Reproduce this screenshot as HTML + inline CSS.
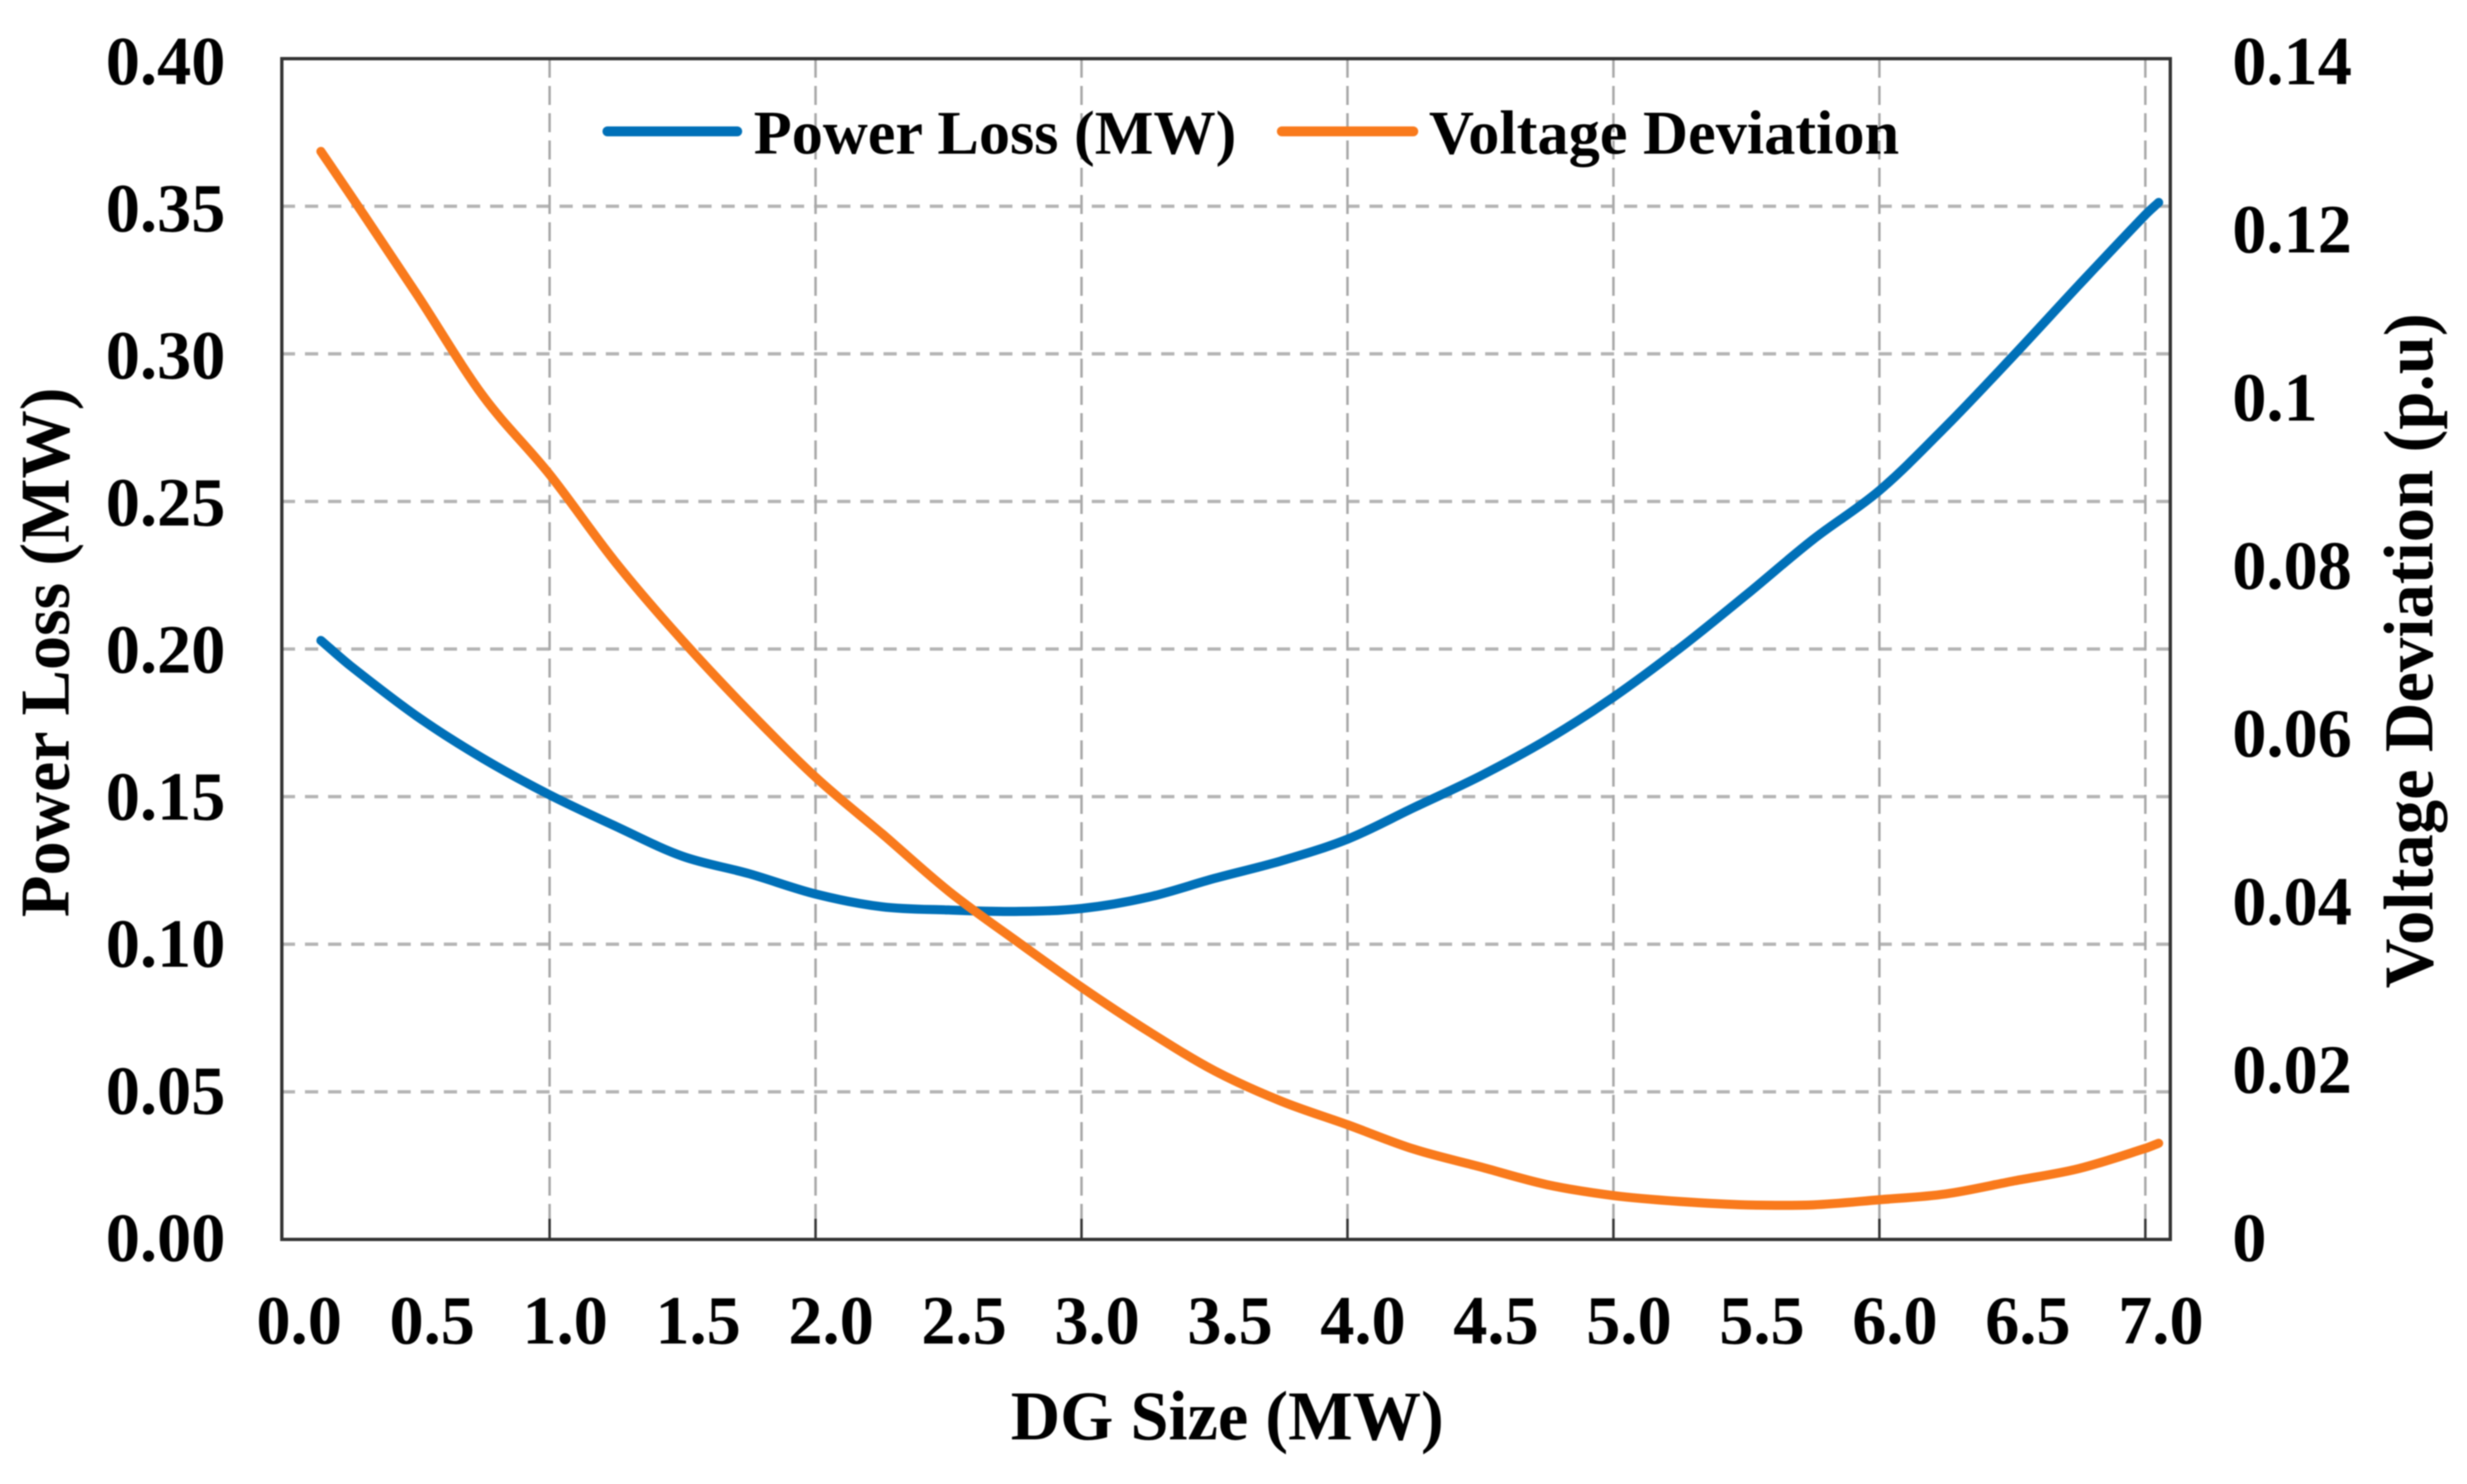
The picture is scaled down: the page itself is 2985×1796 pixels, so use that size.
<!DOCTYPE html>
<html lang="en">
<head>
<meta charset="utf-8">
<title>Power Loss and Voltage Deviation vs DG Size</title>
<style>
html,body{margin:0;padding:0;background:#fff;width:2985px;height:1796px;overflow:hidden}
svg{display:block;filter:blur(0.8px)}
text{font-family:"Liberation Serif",serif;font-weight:bold;fill:#000}
</style>
</head>
<body>
<svg id="chart" xmlns="http://www.w3.org/2000/svg" width="2985" height="1796" viewBox="0 0 2985 1796">
  <rect x="0" y="0" width="2985" height="1796" fill="#fff"/>
  <g id="grid"></g>
  <g id="ticks"></g>
  <rect x="341" y="71" width="2285" height="1429" fill="none" stroke="#333" stroke-width="4"/>
  <g id="series"></g>
  <g id="labels"></g>

  <g>
    <line x1="735" y1="159" x2="892" y2="159" stroke="#0070b8" stroke-width="12" stroke-linecap="round"/>
    <text x="912" y="186" font-size="75" textLength="584" lengthAdjust="spacingAndGlyphs">Power Loss (MW)</text>
    <line x1="1551" y1="159" x2="1710" y2="159" stroke="#f97a1c" stroke-width="12" stroke-linecap="round"/>
    <text x="1729" y="186" font-size="75" textLength="569" lengthAdjust="spacingAndGlyphs">Voltage Deviation</text>
  </g>

  <text x="1223" y="1742" font-size="85" textLength="524" lengthAdjust="spacingAndGlyphs">DG Size (MW)</text>
  <text transform="translate(83,1110) rotate(-90)" font-size="85" textLength="641" lengthAdjust="spacingAndGlyphs">Power Loss (MW)</text>
  <text transform="translate(2943,1196) rotate(-90)" font-size="85" textLength="817" lengthAdjust="spacingAndGlyphs">Voltage Deviation (p.u)</text>
</svg>

<script>
const dgSize = [0.14,0.25,0.5,0.75,1.0,1.25,1.5,1.75,2.0,2.25,2.5,2.75,3.0,3.25,3.5,3.75,4.0,4.25,4.5,4.75,5.0,5.25,5.5,5.75,6.0,6.25,6.5,6.75,7.0,7.05];
const powerLoss = [0.2029,0.1944,0.1773,0.1629,0.1506,0.1399,0.1298,0.1239,0.1170,0.1127,0.1116,0.1111,0.1121,0.1159,0.1223,0.1282,0.1356,0.1463,0.1570,0.1693,0.1837,0.2003,0.2184,0.2371,0.2537,0.2754,0.2990,0.3233,0.3471,0.3513];
const voltageDeviation = [0.1290,0.1239,0.1121,0.1000,0.0907,0.0802,0.0710,0.0626,0.0548,0.0481,0.0413,0.0355,0.0299,0.0247,0.0200,0.0164,0.0136,0.0107,0.0086,0.0065,0.0052,0.0045,0.0041,0.0041,0.0047,0.0054,0.0069,0.0084,0.0108,0.0114];
const xTickLabels = ["0.0","0.5","1.0","1.5","2.0","2.5","3.0","3.5","4.0","4.5","5.0","5.5","6.0","6.5","7.0"];
const leftTickLabels = ["0.00","0.05","0.10","0.15","0.20","0.25","0.30","0.35","0.40"];
const rightTickLabels = ["0","0.02","0.04","0.06","0.08","0.1","0.12","0.14"];
const xGridValues = [1,2,3,4,5,6,7];

const NS = "http://www.w3.org/2000/svg";
const PLOT_TOP = 71, PLOT_BOTTOM = 1500, PLOT_LEFT = 341, PLOT_RIGHT = 2626;
const LEFT_MAX = 0.4, RIGHT_MAX = 0.14;

function xScale(v){ return 343.2 + 321.8 * v; }
function xLabelScale(v){ return 362 + 321.8 * v; }
function yLeft(v){ return PLOT_BOTTOM - (v / LEFT_MAX) * (PLOT_BOTTOM - PLOT_TOP); }
function yRight(v){ return PLOT_BOTTOM - (v / RIGHT_MAX) * (PLOT_BOTTOM - PLOT_TOP); }
function labelBaseline(frac){ return 1526 - frac * 1424; }

function make(tag, attrs, parent){
  const el = document.createElementNS(NS, tag);
  for (const k in attrs) el.setAttribute(k, attrs[k]);
  parent.appendChild(el);
  return el;
}

const grid = document.getElementById("grid");
const ticks = document.getElementById("ticks");
const series = document.getElementById("series");
const labels = document.getElementById("labels");

leftTickLabels.forEach(function(t){
  const v = parseFloat(t);
  if (v <= 0 || v >= LEFT_MAX) return;
  const line = make("line", {x1:PLOT_LEFT, x2:PLOT_RIGHT, y1:yLeft(v), y2:yLeft(v), stroke:"#b4b4b4", "stroke-width":4, "stroke-dasharray":"16 12"}, grid);
  
  
});

xGridValues.forEach(function(v){
  const line = make("line", {x1:xScale(v), x2:xScale(v), y1:PLOT_TOP, y2:PLOT_BOTTOM - 25, stroke:"#a8a8a8", "stroke-width":3, "stroke-dasharray":"23 10"}, grid);
  
  
  const tick = make("line", {x1:xScale(v), x2:xScale(v), y1:PLOT_BOTTOM - 25, y2:PLOT_BOTTOM, stroke:"#333", "stroke-width":3}, ticks);
  
  
});

function smoothPath(values, yFn){
  const pts = values.map(function(val, i){ return [xScale(dgSize[i]), yFn(val)]; });
  let d = "M" + pts[0][0].toFixed(1) + "," + pts[0][1].toFixed(1);
  for (let i = 0; i < pts.length - 1; i++){
    const p0 = pts[Math.max(i - 1, 0)], p1 = pts[i], p2 = pts[i + 1], p3 = pts[Math.min(i + 2, pts.length - 1)];
    const h = p2[0] - p1[0];
    const m1 = (p2[1] - p0[1]) / (p2[0] - p0[0]);
    const m2 = (p3[1] - p1[1]) / (p3[0] - p1[0]);
    d += " C" + (p1[0] + h / 3).toFixed(1) + "," + (p1[1] + m1 * h / 3).toFixed(1) +
         " " + (p2[0] - h / 3).toFixed(1) + "," + (p2[1] - m2 * h / 3).toFixed(1) +
         " " + p2[0].toFixed(1) + "," + p2[1].toFixed(1);
  }
  return d;
}

const blueLine = make("path", {d:smoothPath(powerLoss, yLeft), fill:"none", stroke:"#0070b8", "stroke-width":11, "stroke-linejoin":"round", "stroke-linecap":"round"}, series);



const orangeLine = make("path", {d:smoothPath(voltageDeviation, yRight), fill:"none", stroke:"#f97a1c", "stroke-width":11, "stroke-linejoin":"round", "stroke-linecap":"round"}, series);



function tickText(str, x, y, anchor){
  const t = make("text", {transform:"translate(" + x + "," + y + ") scale(0.985,1)", "font-size":84, "text-anchor":anchor}, labels);
  t.textContent = str;
  return t;
}

xTickLabels.forEach(function(s){
  const t = tickText(s, xLabelScale(parseFloat(s)), 1626, "middle");
  
  
});

leftTickLabels.forEach(function(s){
  const t = tickText(s, 128, labelBaseline(parseFloat(s) / LEFT_MAX), "start");
  
  
});

rightTickLabels.forEach(function(s){
  const t = tickText(s, 2701, labelBaseline(parseFloat(s) / RIGHT_MAX), "start");
  
  
});
</script>
</body>
</html>
